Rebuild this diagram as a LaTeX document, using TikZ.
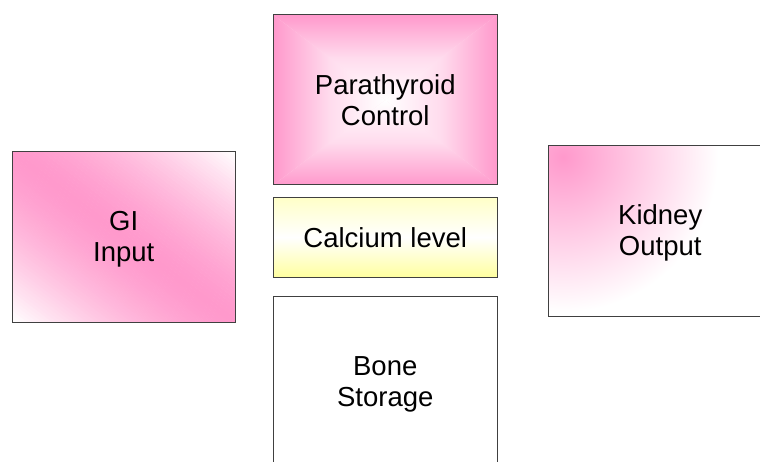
\documentclass[tikz,border=0pt]{standalone}
\usepackage{fontspec}
\setmainfont{Liberation Sans}
\definecolor{rose}{HTML}{FF99CC}
\definecolor{ylwtop}{HTML}{FFFFC8}
\definecolor{ylwbot}{HTML}{FFFFA0}
\definecolor{edgegray}{HTML}{404040}
\begin{document}
\begin{tikzpicture}[x=1pt,y=1pt,
  box/.style={draw=edgegray, line width=1pt, minimum width=223.5pt, inner sep=0pt, outer sep=0pt,
    align=center, font=\fontsize{27.5}{31}\selectfont}]
\useasboundingbox[fill=white] (0,0) rectangle (760,461);
% Parathyroid: rectangular gradient, white centre, rose edges
\fill[rose!30!white] (273.5,446) rectangle (497,276);
\shade[top color=rose, bottom color=white, middle color=rose!35!white] (273.5,446) -- (497,446) -- (385.25,361) -- cycle;
\shade[top color=white, bottom color=rose, middle color=rose!35!white] (273.5,276) -- (497,276) -- (385.25,361) -- cycle;
\shade[left color=rose, right color=white, middle color=rose!35!white] (273.5,446) -- (273.5,276) -- (385.25,361) -- cycle;
\shade[left color=white, right color=rose, middle color=rose!35!white] (497,446) -- (497,276) -- (385.25,361) -- cycle;
% Calcium level: yellow - white - yellow
\shade[top color=ylwtop, bottom color=ylwbot, middle color=white] (273.5,263.5) rectangle (497,184);
% GI input: diagonal band
\begin{scope}
  \clip (12,309) rectangle (235.5,139);
  \begin{scope}[shift={(123.75,224)}, rotate=-37.3]
    \foreach \s in {-138,-135,...,135} {
      \pgfmathsetmacro\p{max(0,100-100*(abs(\s+1.5)/135)^1.5)}
      \fill[rose!\p!white] (-300,\s) rectangle (300,\s+3.4);
    }
  \end{scope}
\end{scope}
% Kidney output: corner gradient
\begin{scope}
  \clip (548.5,315) rectangle (772,145);
  \fill[white] (548.5,315) rectangle (772,145);
  \shade[inner color=rose, outer color=white] (563,304) circle (155);
\end{scope}
% boxes
\node[box, minimum height=170pt] (pth) at (385.25,361) {Parathyroid\\Control};
\node[box, minimum height=79.5pt] (cal) at (385.25,223.75) {Calcium level};
\node[box, minimum height=176pt] (bone) at (385.25,77) {Bone\\Storage};
\node[box, minimum height=170pt] (gi) at (123.75,224) {};
\node[box, minimum height=170pt] (kid) at (660.25,230) {};
\node[box, draw=none] at ([yshift=-2pt]gi.center) {GI\\Input};
\node[box, draw=none] at ([yshift=-2pt]kid.center) {Kidney\\Output};
\end{tikzpicture}
\end{document}
